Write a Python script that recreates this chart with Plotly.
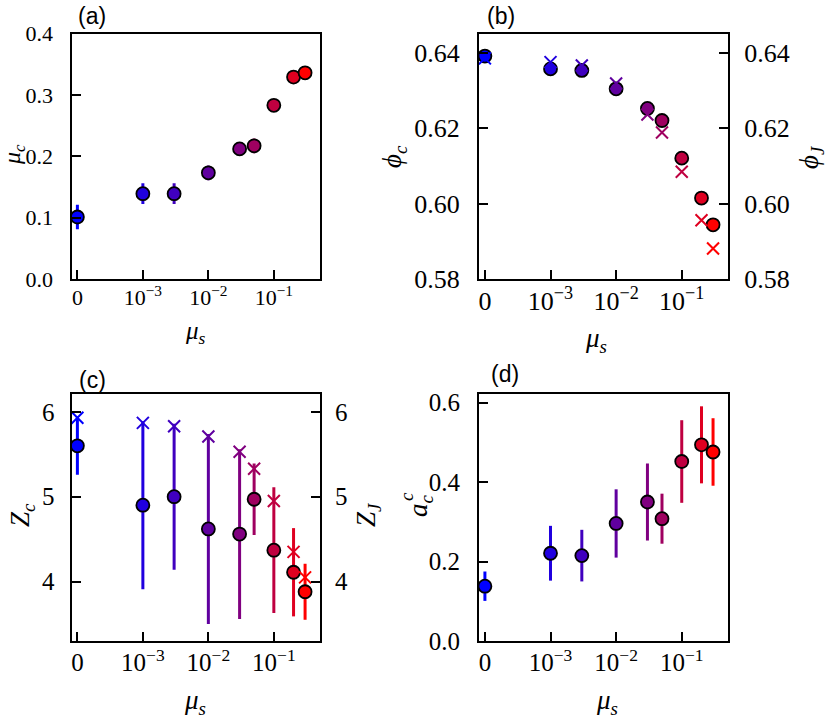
import plotly.graph_objects as go

# friction coefficient mu_s, 0 is drawn one decade below 1e-3
mu_s = [0, 1e-3, 3e-3, 1e-2, 3e-2, 5e-2, 1e-1, 2e-1, 3e-1]
zero_pos = 1e-4

mu_c = [0.101, 0.139, 0.139, 0.173, 0.212, 0.217, 0.283, 0.329, 0.336]
mu_c_err = [0.020, 0.017, 0.017, 0.012, 0.006, 0.012, 0.006, 0.005, 0.005]

phi_c = [0.6392, 0.6358, 0.6354, 0.6305, 0.6253, 0.6221, 0.6121, 0.6015, 0.5944]
phi_c_err = [0.0010, 0.0015, 0.0010, 0.0013, 0.0013, 0.0010, 0.0010, 0.0008, 0.0008]
phi_J = [0.6386, 0.6376, 0.6367, 0.6319, 0.6237, 0.6189, 0.6085, 0.5956, 0.5881]

Z_c = [5.60, 4.90, 5.00, 4.62, 4.56, 4.97, 4.37, 4.11, 3.88]
Z_c_err = [0.34, 0.99, 0.86, 1.12, 1.00, 0.42, 0.74, 0.52, 0.33]
Z_J = [5.93, 5.87, 5.83, 5.71, 5.53, 5.33, 4.95, 4.35, 4.05]

a_c = [0.138, 0.221, 0.215, 0.296, 0.350, 0.308, 0.452, 0.494, 0.476]
a_c_err = [0.037, 0.069, 0.065, 0.086, 0.097, 0.063, 0.104, 0.097, 0.085]

colors = ['#0000ff', '#2000df', '#4000bf', '#60009f', '#800080',
          '#9f0060', '#bf0040', '#df0020', '#ff0000']

x_ticks = [1e-4, 1e-3, 1e-2, 1e-1]
x_ticktext = ['0', '10<sup>−3</sup>', '10<sup>−2</sup>', '10<sup>−1</sup>']

x_plot = [m if m > 0 else zero_pos for m in mu_s]

W, H = 830, 720
serif = 'Liberation Serif'
sans = 'Liberation Sans'


def px(v):
    return v / W


def py(v):
    return 1 - v / H


fig = go.Figure()


def add_points(yvals, errs, xa, ya):
    for i in range(len(x_plot)):
        fig.add_trace(go.Scatter(
            x=[x_plot[i]], y=[yvals[i]], mode='markers', xaxis=xa, yaxis=ya,
            error_y=dict(type='data', array=[errs[i]], color=colors[i],
                         thickness=3, width=0),
            marker=dict(symbol='circle', size=13, color=colors[i],
                        line=dict(color='black', width=1.8)),
            showlegend=False))


def add_crosses(yvals, xa, ya):
    fig.add_trace(go.Scatter(
        x=x_plot, y=yvals, mode='markers', xaxis=xa, yaxis=ya,
        marker=dict(symbol='x-thin', size=12, color=colors,
                    line=dict(color=colors, width=2)),
        showlegend=False))


add_points(mu_c, mu_c_err, 'x', 'y')
add_points(phi_c, phi_c_err, 'x2', 'y2')
add_crosses(phi_J, 'x2', 'y5')
add_points(Z_c, Z_c_err, 'x3', 'y3')
add_crosses(Z_J, 'x3', 'y6')
add_points(a_c, a_c_err, 'x4', 'y4')

left_dom = [px(71.5), px(320)]
right_dom = [px(479), px(728)]
top_dom = [py(279), py(33.5)]
bot_dom = [py(641), py(394)]

common = dict(showline=True, linewidth=2, linecolor='black', ticks='inside',
              ticklen=9, tickwidth=2, tickcolor='black', showgrid=False,
              zeroline=False, automargin=False)


def xax(dom, anchor, size):
    return dict(common, type='log', domain=dom, anchor=anchor, mirror=True,
                range=[-4.09, -0.295], tickvals=x_ticks, ticktext=x_ticktext,
                ticklabelstandoff=-2, tickfont=dict(family=serif, size=size, color='black'))


def yax(dom, anchor, rng, vals, fmt, size, mirror=True, standoff=12):
    return dict(common, domain=dom, anchor=anchor, mirror=mirror, range=rng,
                tickvals=vals, tickformat=fmt, ticklabelstandoff=standoff,
                tickfont=dict(family=serif, size=size, color='black'))


phi_ticks = [0.58, 0.60, 0.62, 0.64]
fig.update_layout(
    width=W, height=H, margin=dict(l=0, r=0, t=0, b=0),
    plot_bgcolor='white', paper_bgcolor='white',
    xaxis=xax(left_dom, 'y', 22),
    yaxis=yax(top_dom, 'x', [0, 0.4], [0, 0.1, 0.2, 0.3, 0.4], '.1f', 22),
    xaxis2=xax(right_dom, 'y2', 26),
    yaxis2=yax(top_dom, 'x2', [0.58, 0.6452], phi_ticks, '.2f', 26, mirror=False),
    yaxis5=dict(yax(top_dom, 'x2', [0.58, 0.6452], phi_ticks, '.2f', 26,
                    mirror=False, standoff=9),
                overlaying='y2', side='right'),
    xaxis3=xax(left_dom, 'y3', 25),
    yaxis3=yax(bot_dom, 'x3', [3.3, 6.21], [4, 5, 6], 'd', 25, mirror=False, standoff=10),
    yaxis6=dict(yax(bot_dom, 'x3', [3.3, 6.21], [4, 5, 6], 'd', 25,
                    mirror=False, standoff=8),
                overlaying='y3', side='right'),
    xaxis4=xax(right_dom, 'y4', 25),
    yaxis4=yax(bot_dom, 'x4', [0, 0.622], [0, 0.2, 0.4, 0.6], '.1f', 25),
)

# panel letters and axis titles
labels = [
    ('(a)', 92, 16, 0, sans, 23),
    ('(b)', 501, 16, 0, sans, 23),
    ('(c)', 92, 380, 0, sans, 23),
    ('(d)', 505, 374, 0, sans, 23),
    ('<i>μ</i><sub><i>c</i></sub>', 14, 155, -90, serif, 24),
    ('<i>μ</i><sub><i>s</i></sub>', 195, 332, 0, serif, 25),
    ('<i>ϕ</i><sub><i>c</i></sub>', 394, 157, -90, serif, 27),
    ('<i>ϕ</i><sub><i>J</i></sub>', 811, 157, -90, serif, 27),
    ('<i>μ</i><sub><i>s</i></sub>', 596, 340, 0, serif, 27),
    ('<i>Z</i><sub><i>c</i></sub>', 22, 515, -90, serif, 27),
    ('<i>Z</i><sub><i>J</i></sub>', 368, 515, -90, serif, 27),
    ('<i>μ</i><sub><i>s</i></sub>', 195, 702, 0, serif, 27),
    ('<i>a</i><sub><i>c</i></sub>', 420, 505, -90, serif, 27),
    ('<i>c</i>', 406, 497, -90, serif, 19),
    ('<i>μ</i><sub><i>s</i></sub>', 607, 702, 0, serif, 27),
]
for txt, x0, y0, ang, fam, sz in labels:
    fig.add_annotation(text=txt, x=px(x0), y=py(y0), xref='paper', yref='paper',
                       showarrow=False, textangle=ang, xanchor='center', yanchor='middle',
                       font=dict(family=fam, size=sz, color='black'))

fig.write_html('out.html', config={'displayModeBar': False},
               post_script="document.body.style.margin='0px';")
